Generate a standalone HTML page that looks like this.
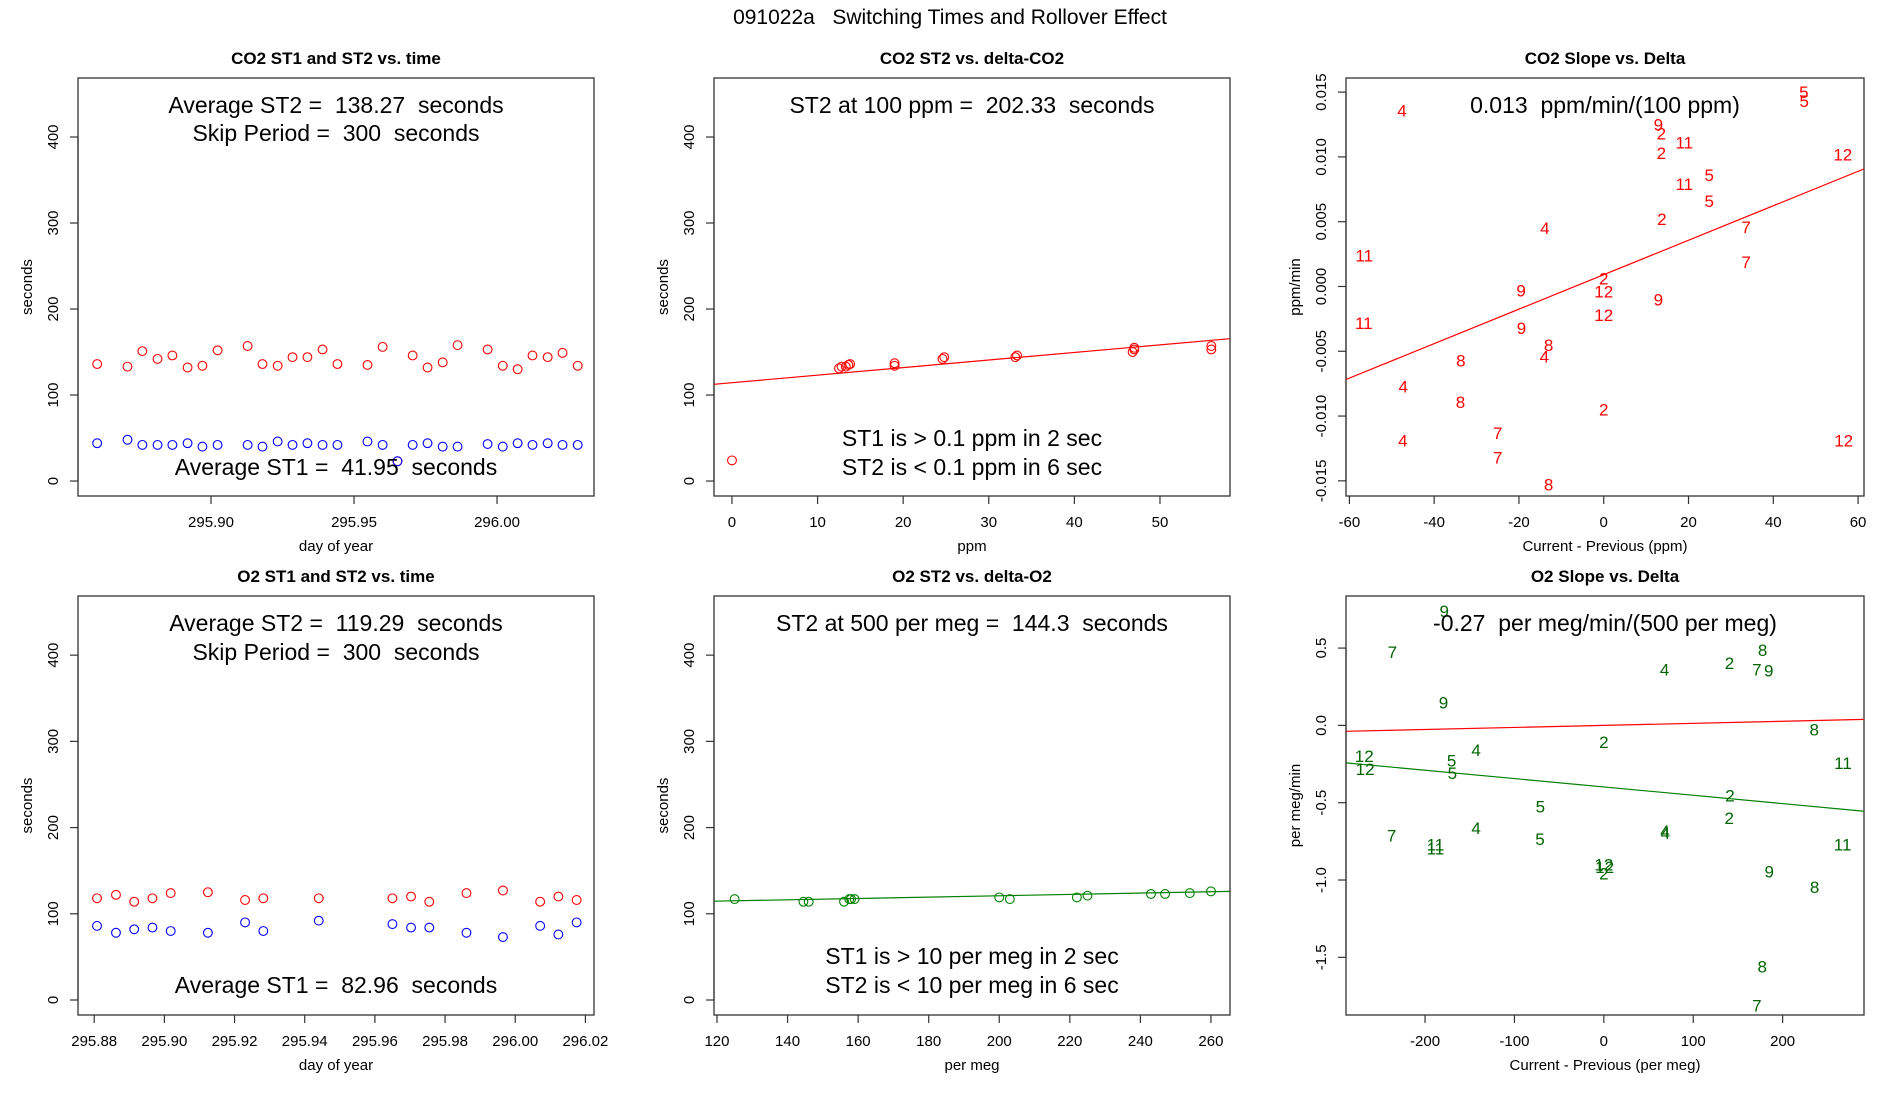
<!DOCTYPE html>
<html><head><meta charset="utf-8"><style>
html,body{margin:0;padding:0;background:#fff;}
svg{display:block;font-family:"Liberation Sans",sans-serif;}
svg text{white-space:pre;}
</style></head><body>
<svg id="chart" width="1900" height="1100" viewBox="0 0 1900 1100">
<text x="950" y="24" text-anchor="middle" font-size="21" xml:space="preserve">091022a   Switching Times and Rollover Effect</text>
</svg>
<script>
// ---- Panel 1: CO2 ST1/ST2 vs time ----
const co2Time = [295.8602,295.8708,295.8760,295.8813,295.8865,295.8918,295.8970,295.9023,295.9128,295.9180,295.9233,295.9285,295.9337,295.9390,295.9442,295.9547,295.9600,295.9652,295.9705,295.9757,295.9810,295.9862,295.9967,296.0020,296.0072,296.0124,296.0177,296.0229,296.0282];
const co2ST2 = [136,133,151,142,146,132,134,152,157,136,134,144,144,153,136,135,156,23,146,132,138,158,153,134,130,146,144,149,134];
const co2ST1 = [44,48,42,42,42,44,40,42,42,40,46,42,44,42,42,46,42,23,42,44,40,40,43,40,44,42,44,42,42];
// ---- Panel 2: CO2 ST2 vs delta ----
const co2Delta = [0,12.5,12.8,13.3,13.6,13.8,19,19,24.6,24.8,33.1,33.3,46.8,47,47,56,56];
const co2DeltaST2 = [24,131,133,133,135,136,134,137,142,144,144,146,150,153,155,153,157];
const co2Fit = [114.3,0.88];
// ---- Panel 3: CO2 slope vs delta ----
const co2SlopeLabels = ["4","5","5","9","2","11","2","12","5","11","5","2","4","7","11","7","2","9","12","9","12","11","9","8","4","8","4","8","2","7","4","12","7","8"];
const co2SlopeX = [-47.6,47.2,47.3,12.9,13.6,19.0,13.6,56.4,24.9,19.0,24.9,13.7,-13.9,33.6,-56.5,33.6,0,-19.5,0,12.9,0,-56.6,-19.4,-13.0,-14.0,-33.7,-47.3,-33.8,0,-25.0,-47.4,56.6,-25.0,-13.0];
const co2SlopeY = [0.0136,0.0150,0.0143,0.0125,0.0118,0.0111,0.0103,0.0102,0.0086,0.0079,0.0066,0.0052,0.0045,0.0046,0.0024,0.0019,0.0006,-0.0003,-0.0004,-0.0010,-0.0022,-0.0028,-0.0032,-0.0045,-0.0054,-0.0057,-0.0077,-0.0089,-0.0095,-0.0113,-0.0119,-0.0119,-0.0132,-0.0153];
const co2SlopeFit = [0.00091,0.000133];
// ---- Panel 4: O2 ST1/ST2 vs time ----
const o2Time = [295.8808,295.8862,295.8914,295.8966,295.9018,295.9124,295.9230,295.9282,295.9440,295.9650,295.9703,295.9755,295.9861,295.9965,296.0071,296.0123,296.0175];
const o2ST2 = [118,122,114,118,124,125,116,118,118,118,120,114,124,127,114,120,116];
const o2ST1 = [86,78,82,84,80,78,90,80,92,88,84,84,78,73,86,76,90];
// ---- Panel 5: O2 ST2 vs delta ----
const o2Delta = [125,144.5,146,156,157.5,158,159,200,203,222,225,243,247,254,260];
const o2DeltaST2 = [117,114,114,114,117,117,117,119,117,119,121,123,123,124,126];
const o2Fit = [105.3,0.078];
// ---- Panel 6: O2 slope vs delta ----
const o2SlopeLabels = ["9","7","9","8","2","4","7","9","8","2","4","12","12","5","5","11","2","5","2","4","7","4","4","5","11","11","11","12","12","2","9","8","8","7"];
const o2SlopeX = [-178.5,-236.6,-179.4,177.6,140.6,68.0,171.2,184.5,235.3,0,-142.8,-268,-267,-170.3,-169.5,267.5,141.1,-71,140.2,-142.8,-237.4,68.4,68.8,-71.4,-188.4,-188.4,267.1,0,0.9,0,185,235.7,177.2,171.2];
const o2SlopeY = [0.739,0.474,0.147,0.488,0.404,0.361,0.361,0.356,-0.027,-0.107,-0.159,-0.197,-0.281,-0.227,-0.308,-0.243,-0.454,-0.524,-0.599,-0.664,-0.712,-0.683,-0.696,-0.735,-0.769,-0.796,-0.769,-0.900,-0.916,-0.959,-0.946,-1.045,-1.560,-1.812];
const o2SlopeFit = [-0.398,-0.00054];
const o2RefFit = [0,0.000133];
// tick labels
const timeTicks1 = [295.90,295.95,296.00];
const timeTickLabels1 = ["295.90","295.95","296.00"];
const timeTicks2 = [295.88,295.90,295.92,295.94,295.96,295.98,296.00,296.02];
const timeTickLabels2 = ["295.88","295.90","295.92","295.94","295.96","295.98","296.00","296.02"];
const secTicks = [0,100,200,300,400];
const ppmTicks = [0,10,20,30,40,50];
const megTicks = [120,140,160,180,200,220,240,260];
const slopeXTicks = [-60,-40,-20,0,20,40,60];
const co2SlopeYTicks = [-0.015,-0.010,-0.005,0,0.005,0.010,0.015];
const co2SlopeYTickLabels = ["-0.015","-0.010","-0.005","0.000","0.005","0.010","0.015"];
const o2SlopeXTicks = [-200,-100,0,100,200];
const o2SlopeYTicks = [-1.5,-1.0,-0.5,0,0.5];
const o2SlopeYTickLabels = ["-1.5","-1.0","-0.5","0.0","0.5"];

const NS="http://www.w3.org/2000/svg";
const svg=document.getElementById('chart');
function mk(tag,attrs,parent,txt){const e=document.createElementNS(NS,tag);for(const k in attrs)e.setAttribute(k,attrs[k]);if(txt!==undefined)e.textContent=txt;(parent||svg).appendChild(e);return e;}

function panel(o){
  const g=mk('g',{});
  
  
  const sx=v=>o.x0+(v-o.xd[0])/(o.xd[1]-o.xd[0])*(o.x1-o.x0);
  const sy=v=>o.y1-(v-o.yd[0])/(o.yd[1]-o.yd[0])*(o.y1-o.y0);
  const t=mk('text',{x:(o.x0+o.x1)/2,y:o.y0-14,'text-anchor':'middle','font-size':17,'font-weight':'bold'},g,o.title);
  
  
  const box=mk('rect',{x:o.x0,y:o.y0,width:o.x1-o.x0,height:o.y1-o.y0,fill:'none',stroke:'#333','stroke-width':1.3},g);
  
  
  const xa=mk('g',{},g);
  
  
  o.xt.forEach((v,i)=>{const X=sx(v);
    mk('line',{x1:X,x2:X,y1:o.y1,y2:o.y1+8,stroke:'#333','stroke-width':1.2},xa);
    const l=mk('text',{x:X,y:o.y1+31,'text-anchor':'middle','font-size':15},xa,o.xtl?o.xtl[i]:String(v));
    
    });
  const xt=mk('text',{x:(o.x0+o.x1)/2,y:o.y1+55,'text-anchor':'middle','font-size':15},g,o.xlab);
  
  
  const ya=mk('g',{},g);
  
  
  mk('line',{x1:o.x0,x2:o.x0,y1:sy(o.yt[0]),y2:sy(o.yt[o.yt.length-1]),stroke:'#333','stroke-width':1.2},ya);
  o.yt.forEach((v,i)=>{const Y=sy(v);
    mk('line',{x1:o.x0-8,x2:o.x0,y1:Y,y2:Y,stroke:'#333','stroke-width':1.2},ya);
    const lx=o.x0-25;
    const l=mk('text',{x:lx,y:Y,'text-anchor':'middle','font-size':15,transform:`rotate(-90 ${lx} ${Y}) translate(0 5)`},ya,o.ytl?o.ytl[i]:String(v));
    
    });
  const yx=o.x0-46, yy=(o.y0+o.y1)/2;
  const yt=mk('text',{x:yx,y:yy,'text-anchor':'middle','font-size':15,transform:`rotate(-90 ${yx} ${yy})`},g,o.ylab);
  
  
  const clipId='c'+o.name;
  const cp=mk('clipPath',{id:clipId},g);mk('rect',{x:o.x0,y:o.y0,width:o.x1-o.x0,height:o.y1-o.y0},cp);
  const plot=mk('g',{'clip-path':`url(#${clipId})`},g);
  (o.lines||[]).forEach(f=>{
    const ln=mk('line',{x1:sx(o.xd[0]),y1:sy(f.c[0]+f.c[1]*o.xd[0]),x2:sx(o.xd[1]),y2:sy(f.c[0]+f.c[1]*o.xd[1]),stroke:f.col,'stroke-width':1.2},plot);
    
    });
  (o.series||[]).forEach(s=>{
    s.x.forEach((v,i)=>{
      const c=mk('circle',{cx:sx(v),cy:sy(s.y[i]),r:4.4,fill:'none',stroke:s.col,'stroke-width':1.1},plot);
      
      });});
  if(o.labels){o.labels.t.forEach((tx,i)=>{
      const l=mk('text',{x:sx(o.labels.x[i]),y:sy(o.labels.y[i])+6,'text-anchor':'middle','font-size':17,fill:o.labels.col},plot,tx);
      
      });}
  (o.notes||[]).forEach(n=>{
    const l=mk('text',{x:(o.x0+o.x1)/2,y:n[1],'text-anchor':'middle','font-size':23,'xml:space':'preserve'},g,n[0]);
    
    });
}
const R1=[78,496],R2=[596,1015];
const C1=[78,594],C2=[714,1230],C3=[1346,1864];
const secDom=[-17.4,468.6];
panel({name:'co2-time-panel',title:'CO2 ST1 and ST2 vs. time',x0:C1[0],x1:C1[1],y0:R1[0],y1:R1[1],xd:[295.8535,296.0339],yd:secDom,xt:timeTicks1,xtl:timeTickLabels1,yt:secTicks,xlab:'day of year',ylab:'seconds',
  series:[{x:co2Time,y:co2ST2,col:'#ff0000',name:'co2-st2-point'},{x:co2Time,y:co2ST1,col:'#0000ff',name:'co2-st1-point'}],
  notes:[['Average ST2 =  138.27  seconds',113],['Skip Period =  300  seconds',141],['Average ST1 =  41.95  seconds',475]]});
panel({name:'co2-delta-panel',title:'CO2 ST2 vs. delta-CO2',x0:C2[0],x1:C2[1],y0:R1[0],y1:R1[1],xd:[-2.10,58.18],yd:secDom,xt:ppmTicks,yt:secTicks,xlab:'ppm',ylab:'seconds',
  series:[{x:co2Delta,y:co2DeltaST2,col:'#ff0000',name:'co2-st2-delta-point'}],lines:[{c:co2Fit,col:'#ff0000',name:'co2-fit-line'}],
  notes:[['ST2 at 100 ppm =  202.33  seconds',113],['ST1 is > 0.1 ppm in 2 sec',446],['ST2 is < 0.1 ppm in 6 sec',475]]});
panel({name:'co2-slope-panel',title:'CO2 Slope vs. Delta',x0:C3[0],x1:C3[1],y0:R1[0],y1:R1[1],xd:[-60.8,61.4],yd:[-0.01617,0.01609],xt:slopeXTicks,yt:co2SlopeYTicks,ytl:co2SlopeYTickLabels,xlab:'Current - Previous (ppm)',ylab:'ppm/min',
  lines:[{c:co2SlopeFit,col:'#ff0000',name:'co2-slope-fit-line'}],labels:{t:co2SlopeLabels,x:co2SlopeX,y:co2SlopeY,col:'#ff0000'},
  notes:[['0.013  ppm/min/(100 ppm)',113]]});
panel({name:'o2-time-panel',title:'O2 ST1 and ST2 vs. time',x0:C1[0],x1:C1[1],y0:R2[0],y1:R2[1],xd:[295.87538,296.02245],yd:secDom,xt:timeTicks2,xtl:timeTickLabels2,yt:secTicks,xlab:'day of year',ylab:'seconds',
  series:[{x:o2Time,y:o2ST2,col:'#ff0000',name:'o2-st2-point'},{x:o2Time,y:o2ST1,col:'#0000ff',name:'o2-st1-point'}],
  notes:[['Average ST2 =  119.29  seconds',631],['Skip Period =  300  seconds',660],['Average ST1 =  82.96  seconds',993]]});
panel({name:'o2-delta-panel',title:'O2 ST2 vs. delta-O2',x0:C2[0],x1:C2[1],y0:R2[0],y1:R2[1],xd:[119.15,265.4],yd:secDom,xt:megTicks,yt:secTicks,xlab:'per meg',ylab:'seconds',
  series:[{x:o2Delta,y:o2DeltaST2,col:'#008000',name:'o2-st2-delta-point'}],lines:[{c:o2Fit,col:'#008000',name:'o2-fit-line'}],
  notes:[['ST2 at 500 per meg =  144.3  seconds',631],['ST1 is > 10 per meg in 2 sec',964],['ST2 is < 10 per meg in 6 sec',993]]});
panel({name:'o2-slope-panel',title:'O2 Slope vs. Delta',x0:C3[0],x1:C3[1],y0:R2[0],y1:R2[1],xd:[-288.4,291],yd:[-1.873,0.8368],xt:o2SlopeXTicks,yt:o2SlopeYTicks,ytl:o2SlopeYTickLabels,xlab:'Current - Previous (per meg)',ylab:'per meg/min',
  lines:[{c:o2RefFit,col:'#ff0000',name:'o2-reference-line'},{c:o2SlopeFit,col:'#008000',name:'o2-slope-fit-line'}],labels:{t:o2SlopeLabels,x:o2SlopeX,y:o2SlopeY,col:'#006400'},
  notes:[['-0.27  per meg/min/(500 per meg)',631]]});
</script>
</body></html>
